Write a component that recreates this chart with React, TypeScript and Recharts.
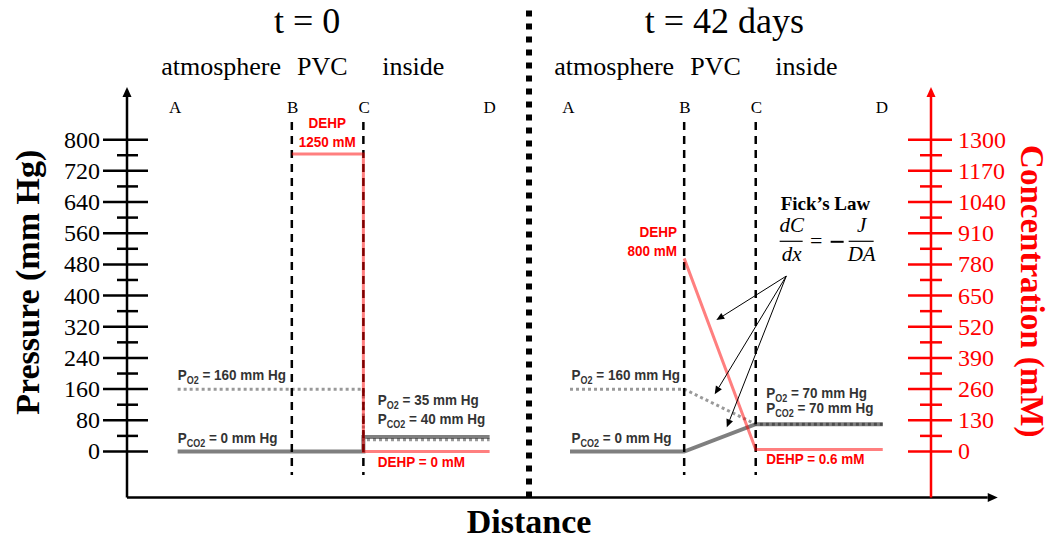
import React from "react";
import { LineChart, Line, XAxis, YAxis, ReferenceLine, ReferenceDot } from "recharts";

const SERIF = "'Liberation Serif', 'Times New Roman', serif";
const SANS = "'Liberation Sans', Arial, sans-serif";

// distance of the A / B / C / D boundaries, t = 0 panel and t = 42 days panel
const edgesT0 = { A: 6.3, B: 20.5, C: 29.4, D: 45.1 };
const edgesT42 = { A: 55.1, B: 69.3, C: 78.2, D: 94.0 };
const letters = ["A", "B", "C", "D"];
const letterXT0 = [6.0, 20.6, 29.5, 45.1];
const letterXT42 = [54.9, 69.4, 78.3, 93.9];
const regions = ["atmosphere", "PVC", "inside"];
const regionXT0 = [11.7, 24.3, 35.6];
const regionXT42 = [60.6, 73.2, 84.5];
const titles = ["t = 0", "t = 42 days"];
const titleX = [22.4, 74.3];

// axis ticks
const pressureTicks = [0, 40, 80, 120, 160, 200, 240, 280, 320, 360, 400, 440, 480, 520, 560, 600, 640, 680, 720, 760, 800];
const concTicks = [0, 65, 130, 195, 260, 325, 390, 455, 520, 585, 650, 715, 780, 845, 910, 975, 1040, 1105, 1170, 1235, 1300];

// series: pressure in mm Hg, DEHP in mM
const o2T0 = [
  { x: edgesT0.A, y: 160 }, { x: edgesT0.C, y: 160 }, { x: edgesT0.C, y: 30 }, { x: edgesT0.D, y: 30 },
];
const co2T0 = [
  { x: edgesT0.A, y: 0 }, { x: edgesT0.C, y: 0 }, { x: edgesT0.C, y: 37 }, { x: edgesT0.D, y: 37 },
];
const dehpT0 = [
  { x: edgesT0.B, y: 1240 }, { x: edgesT0.C, y: 1240 }, { x: edgesT0.C, y: 0 }, { x: edgesT0.D, y: 0 },
];
const o2T42 = [
  { x: edgesT42.A, y: 160 }, { x: edgesT42.B, y: 160 }, { x: edgesT42.C, y: 70 }, { x: edgesT42.D, y: 70 },
];
const co2T42 = [
  { x: edgesT42.A, y: 0 }, { x: edgesT42.B, y: 0 }, { x: edgesT42.C, y: 70 }, { x: edgesT42.D, y: 70 },
];
const dehpT42 = [
  { x: edgesT42.B, y: 805 }, { x: edgesT42.C, y: 8 }, { x: edgesT42.D, y: 8 },
];

const gasNotes = [
  { x: 6.3, y: 184, gas: "O2", rest: " = 160 mm Hg" },
  { x: 6.3, y: 22, gas: "CO2", rest: " = 0 mm Hg" },
  { x: 31.2, y: 120, gas: "O2", rest: " = 35 mm Hg" },
  { x: 31.2, y: 70, gas: "CO2", rest: " = 40 mm Hg" },
  { x: 55.3, y: 184, gas: "O2", rest: " = 160 mm Hg" },
  { x: 55.3, y: 22, gas: "CO2", rest: " = 0 mm Hg" },
  { x: 79.5, y: 137, gas: "O2", rest: " = 70 mm Hg" },
  { x: 79.5, y: 98, gas: "CO2", rest: " = 70 mm Hg" },
];
const dehpNotes = [
  { x: 24.9, y: 830, text: "DEHP", anchor: "middle" },
  { x: 24.9, y: 782, text: "1250 mM", anchor: "middle" },
  { x: 31.2, y: -40, text: "DEHP = 0 mM", anchor: "start" },
  { x: 68.4, y: 551, text: "DEHP", anchor: "end" },
  { x: 68.4, y: 502, text: "800 mM", anchor: "end" },
  { x: 79.5, y: -32, text: "DEHP = 0.6 mM", anchor: "start" },
];

const fickAt = { x: 81.3, y: 620 };
const fickFrom = { x: 82.0, y: 450 };
const fickTargets = [{ x: 73.3, y: 337 }, { x: 73.1, y: 147 }, { x: 74.6, y: 62 }];

const P_DOMAIN = [-118, 935];
const C_DOMAIN = [-191.75, 1519.375];

const arrowShape = (len: number, half: number) => (props: any) => {
  const { x1, y1, x2, y2, stroke, strokeWidth, strokeDasharray } = props;
  const a = Math.atan2(y2 - y1, x2 - x1);
  const bx = x2 - len * Math.cos(a);
  const by = y2 - len * Math.sin(a);
  const px = half * Math.sin(a);
  const py = half * Math.cos(a);
  return (
    <g>
      <line x1={x1} y1={y1} x2={bx} y2={by} stroke={stroke} strokeWidth={strokeWidth} strokeDasharray={strokeDasharray} />
      <polygon points={`${x2},${y2} ${bx + px},${by - py} ${bx - px},${by + py}`} fill={stroke} />
    </g>
  );
};

const PressureTick = ({ x, y, payload }: any) => {
  const major = payload.value % 80 === 0;
  return (
    <g>
      <line x1={major ? x - 24 : x - 10} x2={major ? x + 21 : x + 11} y1={y} y2={y} stroke="#000" strokeWidth={2.5} />
      {major && (
        <text x={x - 27} y={y + 8} textAnchor="end" fontFamily={SERIF} fontSize={24} fill="#000">
          {payload.value}
        </text>
      )}
    </g>
  );
};

const ConcTick = ({ x, y, payload }: any) => {
  const major = payload.value % 130 === 0;
  return (
    <g>
      <line x1={major ? x - 23 : x - 11} x2={major ? x + 21 : x + 11} y1={y} y2={y} stroke="#ff0000" strokeWidth={2.5} />
      {major && (
        <text x={x + 27} y={y + 8} textAnchor="start" fontFamily={SERIF} fontSize={24} fill="#ff0000">
          {payload.value}
        </text>
      )}
    </g>
  );
};

const SansText = ({ x, y, anchor = "start", color = "#333", children }: any) => (
  <g transform={`translate(${x},${y}) scale(0.9,1)`}>
    <text x={0} y={0} textAnchor={anchor} fontFamily={SANS} fontWeight="bold" fontSize={15} fill={color}>
      {children}
    </text>
  </g>
);

const textDot = (key: string, x: number, y: number, render: (cx: number, cy: number) => React.ReactNode) => (
  <ReferenceDot
    key={key}
    x={x}
    y={y}
    r={0}
    yAxisId="p"
    ifOverflow="visible"
    fill="none"
    stroke="none"
    label={{ content: (p: any) => render(p.viewBox.x, p.viewBox.y) }}
  />
);

const FickLaw = ({ x, y }: any) => (
  <g transform={`translate(${x},${y})`} fontFamily={SERIF} fill="#000">
    <text x={0} y={0} fontWeight="bold" fontSize={19}>Fick’s Law</text>
    <text x={11} y={22} fontStyle="italic" fontSize={21} textAnchor="middle">dC</text>
    <line x1={-1} x2={22} y1={31.5} y2={31.5} stroke="#000" strokeWidth={1.2} />
    <text x={11} y={51} fontStyle="italic" fontSize={21} textAnchor="middle">dx</text>
    <text x={35.5} y={38.5} fontSize={22} textAnchor="middle">=</text>
    <line x1={50} x2={63} y1={32} y2={32} stroke="#000" strokeWidth={2} />
    <text x={81} y={22} fontStyle="italic" fontSize={21} textAnchor="middle">J</text>
    <line x1={68} x2={93} y1={31.5} y2={31.5} stroke="#000" strokeWidth={1.2} />
    <text x={81} y={51} fontStyle="italic" fontSize={21} textAnchor="middle">DA</text>
  </g>
);

export default function App() {
  const dashedEdges = [edgesT0.B, edgesT0.C, edgesT42.B, edgesT42.C];
  return (
    <div style={{ width: 1051, height: 539 }}>
      <style>{`body{margin:0;}`}</style>
      <LineChart width={1051} height={539} margin={{ top: 87, right: 0, bottom: 0, left: 0 }}>
        <XAxis
          dataKey="x"
          type="number"
          domain={[0, 100]}
          allowDataOverflow
          height={41.5}
          axisLine={false}
          tickLine={false}
          tick={false}
          label={{
            content: (p: any) => (
              <text
                x={p.viewBox.x + p.viewBox.width / 2}
                y={p.viewBox.y + 35}
                textAnchor="middle"
                fontFamily={SERIF}
                fontWeight="bold"
                fontSize={34}
                fill="#000"
              >
                Distance
              </text>
            ),
          }}
        />
        <YAxis
          yAxisId="p"
          width={127}
          domain={P_DOMAIN}
          allowDataOverflow
          ticks={pressureTicks}
          interval={0}
          tick={<PressureTick />}
          tickSize={0}
          tickMargin={0}
          axisLine={false}
          tickLine={false}
          label={{
            content: (p: any) => {
              const cx = p.viewBox.x + 27;
              const cy = p.viewBox.y + p.viewBox.height / 2 - 10;
              return (
                <text
                  x={cx}
                  y={cy}
                  dy="0.35em"
                  transform={`rotate(-90 ${cx} ${cy})`}
                  textAnchor="middle"
                  fontFamily={SERIF}
                  fontWeight="bold"
                  fontSize={34}
                  fill="#000"
                >
                  Pressure (mm Hg)
                </text>
              );
            },
          }}
        />
        <YAxis
          yAxisId="c"
          orientation="right"
          width={120}
          domain={C_DOMAIN}
          allowDataOverflow
          ticks={concTicks}
          interval={0}
          tick={<ConcTick />}
          tickSize={0}
          tickMargin={0}
          axisLine={false}
          tickLine={false}
          label={{
            content: (p: any) => {
              const cx = p.viewBox.x + 102;
              const cy = p.viewBox.y + p.viewBox.height / 2 - 1;
              return (
                <text
                  x={cx}
                  y={cy}
                  dy="0.35em"
                  transform={`rotate(90 ${cx} ${cy})`}
                  textAnchor="middle"
                  fontFamily={SERIF}
                  fontWeight="bold"
                  fontSize={33}
                  fill="#ff0000"
                >
                  Concentration (mM)
                </text>
              );
            },
          }}
        />

        {/* axes with arrow heads */}
        <ReferenceLine
          yAxisId="p"
          segment={[{ x: 0, y: P_DOMAIN[0] }, { x: 0, y: P_DOMAIN[1] }]}
          stroke="#000"
          strokeWidth={2.5}
          ifOverflow="visible"
          shape={arrowShape(10, 4.5)}
        />
        <ReferenceLine
          yAxisId="p"
          segment={[{ x: 0, y: P_DOMAIN[0] }, { x: 108.3, y: P_DOMAIN[0] }]}
          stroke="#000"
          strokeWidth={2.5}
          ifOverflow="visible"
          shape={arrowShape(10, 4.5)}
        />
        <ReferenceLine
          yAxisId="c"
          segment={[{ x: 100, y: C_DOMAIN[0] }, { x: 100, y: C_DOMAIN[1] }]}
          stroke="#ff0000"
          strokeWidth={2.5}
          ifOverflow="visible"
          shape={arrowShape(10, 4.5)}
        />

        {/* separator between the two time points */}
        <ReferenceLine
          yAxisId="p"
          segment={[{ x: 50, y: 1131 }, { x: 50, y: P_DOMAIN[0] }]}
          stroke="#000"
          strokeWidth={6}
          strokeDasharray="6 7"
          ifOverflow="visible"
        />

        {/* PVC boundaries */}
        {dashedEdges.map((d, i) => (
          <ReferenceLine
            key={`edge-${i}`}
            yAxisId="p"
            segment={[{ x: d, y: 845 }, { x: d, y: -60 }]}
            stroke="#000"
            strokeWidth={2.5}
            strokeDasharray="8 6"
            ifOverflow="visible"
          />
        ))}

        <Line data={co2T0} yAxisId="p" dataKey="y" stroke="#000" strokeOpacity={0.5} strokeWidth={4} dot={false} activeDot={false} isAnimationActive={false} />
        <Line data={o2T0} yAxisId="p" dataKey="y" stroke="#000" strokeOpacity={0.4} strokeWidth={3} strokeDasharray="3 3" dot={false} activeDot={false} isAnimationActive={false} />
        <Line data={co2T42} yAxisId="p" dataKey="y" stroke="#000" strokeOpacity={0.5} strokeWidth={4} dot={false} activeDot={false} isAnimationActive={false} />
        <Line data={o2T42} yAxisId="p" dataKey="y" stroke="#000" strokeOpacity={0.4} strokeWidth={3} strokeDasharray="3 3" dot={false} activeDot={false} isAnimationActive={false} />
        <Line data={dehpT0} yAxisId="c" dataKey="y" stroke="#ff0000" strokeOpacity={0.5} strokeWidth={3} dot={false} activeDot={false} isAnimationActive={false} />
        <Line data={dehpT42} yAxisId="c" dataKey="y" stroke="#ff0000" strokeOpacity={0.5} strokeWidth={3} dot={false} activeDot={false} isAnimationActive={false} />

        {/* Fick's law arrows */}
        {fickTargets.map((t, i) => (
          <ReferenceLine
            key={`fick-${i}`}
            yAxisId="p"
            segment={[fickFrom, t]}
            stroke="#000"
            strokeWidth={1}
            ifOverflow="visible"
            shape={arrowShape(8, 3.5)}
          />
        ))}

        {/* titles and region names */}
        {titles.map((t, i) =>
          textDot(`title-${i}`, titleX[i], 1073, (cx, cy) => (
            <text x={cx} y={cy} textAnchor="middle" fontFamily={SERIF} fontSize={36} fill="#000">{t}</text>
          ))
        )}
        {regions.map((r, i) =>
          textDot(`r0-${i}`, regionXT0[i], 966, (cx, cy) => (
            <text x={cx} y={cy} textAnchor="middle" fontFamily={SERIF} fontSize={26} fill="#000">{r}</text>
          ))
        )}
        {regions.map((r, i) =>
          textDot(`r42-${i}`, regionXT42[i], 966, (cx, cy) => (
            <text x={cx} y={cy} textAnchor="middle" fontFamily={SERIF} fontSize={26} fill="#000">{r}</text>
          ))
        )}
        {letters.map((l, i) =>
          textDot(`l0-${i}`, letterXT0[i], 868, (cx, cy) => (
            <text x={cx} y={cy} textAnchor="middle" fontFamily={SERIF} fontSize={17} fill="#000">{l}</text>
          ))
        )}
        {letters.map((l, i) =>
          textDot(`l42-${i}`, letterXT42[i], 868, (cx, cy) => (
            <text x={cx} y={cy} textAnchor="middle" fontFamily={SERIF} fontSize={17} fill="#000">{l}</text>
          ))
        )}

        {/* gas and DEHP annotations */}
        {gasNotes.map((n, i) =>
          textDot(`gas-${i}`, n.x, n.y, (cx, cy) => (
            <SansText x={cx} y={cy}>
              P<tspan fontSize={10} dy={4}>{n.gas}</tspan>
              <tspan dy={-4}>{n.rest}</tspan>
            </SansText>
          ))
        )}
        {dehpNotes.map((n, i) =>
          textDot(`dehp-${i}`, n.x, n.y, (cx, cy) => (
            <SansText x={cx} y={cy} anchor={n.anchor} color="#ff0000">{n.text}</SansText>
          ))
        )}
        {textDot("fick", fickAt.x, fickAt.y, (cx, cy) => <FickLaw x={cx} y={cy} />)}
      </LineChart>
    </div>
  );
}
